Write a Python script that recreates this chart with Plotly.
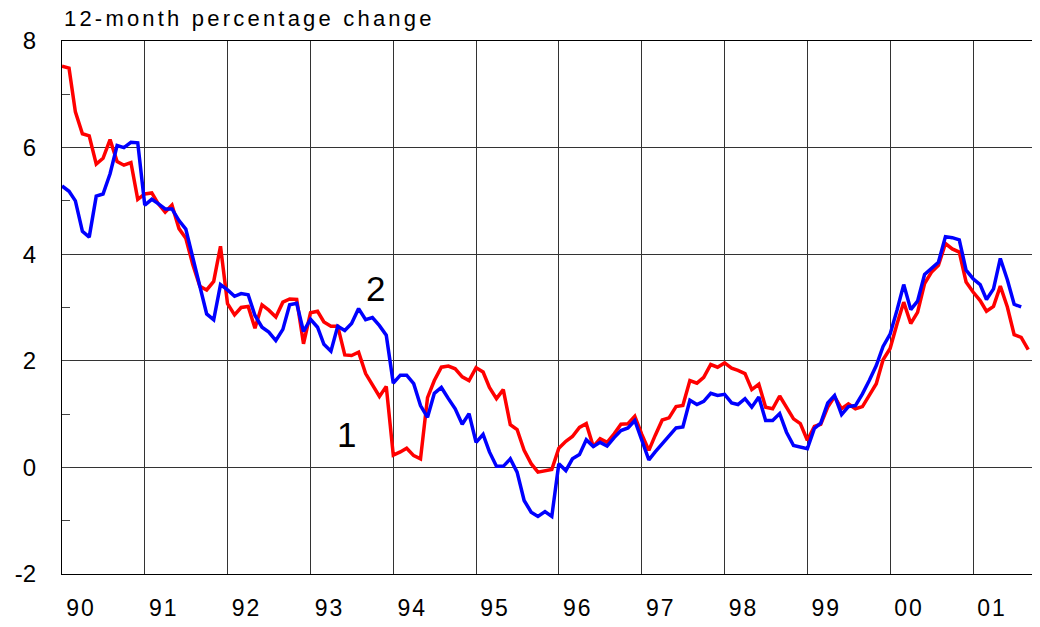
import pandas as pd
import plotly.graph_objects as go

# 12-month percentage change, monthly from Jan 1990
series1 = [7.53, 7.49, 6.67, 6.26, 6.22, 5.69, 5.80, 6.15, 5.74, 5.67, 5.72, 5.03,
           5.13, 5.15, 4.95, 4.79, 4.92, 4.48, 4.30, 3.80, 3.40, 3.33, 3.49, 4.15,
           3.07, 2.86, 3.00, 3.02, 2.61, 3.05, 2.95, 2.82, 3.10, 3.16, 3.15, 2.32,
           2.90, 2.93, 2.73, 2.65, 2.65, 2.11, 2.10, 2.16, 1.76, 1.54, 1.33, 1.52,
           0.23, 0.29, 0.36, 0.22, 0.16, 1.31, 1.63, 1.88, 1.90, 1.85, 1.70, 1.63,
           1.87, 1.79, 1.50, 1.29, 1.46, 0.80, 0.71, 0.32, 0.07, -0.09, -0.06, -0.04,
           0.36, 0.49, 0.58, 0.75, 0.82, 0.39, 0.54, 0.47, 0.63, 0.81, 0.82, 0.96,
           0.62, 0.32, 0.60, 0.89, 0.93, 1.14, 1.16, 1.63, 1.58, 1.69, 1.93, 1.88,
           1.96, 1.86, 1.82, 1.76, 1.46, 1.56, 1.13, 1.10, 1.34, 1.12, 0.91, 0.82,
           0.51, 0.77, 0.81, 1.13, 1.33, 1.10, 1.19, 1.10, 1.14, 1.35, 1.57, 2.02,
           2.23, 2.70, 3.10, 2.70, 2.91, 3.45, 3.66, 3.79, 4.20, 4.10, 4.04, 3.48,
           3.29, 3.13, 2.93, 3.02, 3.40, 3.01, 2.49, 2.44, 2.21]

series2 = [5.28, 5.18, 5.00, 4.43, 4.32, 5.09, 5.13, 5.51, 6.04, 6.00, 6.10, 6.09,
           4.92, 5.03, 4.95, 4.85, 4.85, 4.63, 4.47, 3.92, 3.35, 2.88, 2.77, 3.43,
           3.33, 3.21, 3.26, 3.24, 2.85, 2.63, 2.54, 2.38, 2.59, 3.05, 3.08, 2.55,
           2.78, 2.63, 2.31, 2.18, 2.65, 2.57, 2.70, 2.98, 2.77, 2.81, 2.66, 2.48,
           1.58, 1.73, 1.73, 1.57, 1.16, 0.94, 1.39, 1.50, 1.29, 1.10, 0.81, 1.01,
           0.47, 0.62, 0.29, 0.02, 0.02, 0.16, -0.09, -0.62, -0.84, -0.92, -0.83, -0.92,
           0.07, -0.06, 0.16, 0.24, 0.52, 0.39, 0.47, 0.40, 0.56, 0.69, 0.74, 0.88,
           0.51, 0.14, 0.29, 0.44, 0.57, 0.74, 0.76, 1.26, 1.18, 1.24, 1.39, 1.35,
           1.37, 1.21, 1.18, 1.29, 1.13, 1.32, 0.88, 0.88, 1.01, 0.66, 0.41, 0.38,
           0.35, 0.73, 0.83, 1.21, 1.35, 0.99, 1.14, 1.16, 1.38, 1.63, 1.91, 2.27,
           2.50, 2.96, 3.43, 2.96, 3.12, 3.62, 3.74, 3.85, 4.33, 4.31, 4.27, 3.70,
           3.54, 3.43, 3.15, 3.35, 3.92, 3.52, 3.06, 3.01]

years = list(range(1990, 2002))
year_labels = ["90", "91", "92", "93", "94", "95", "96", "97", "98", "99", "00", "01"]
y_ticks = [-2, 0, 2, 4, 6, 8]
y_labels = ["-2", "0", "2", "4", "6", "8"]

dates1 = pd.date_range("1990-01-01", periods=len(series1), freq="MS")
dates2 = pd.date_range("1990-01-01", periods=len(series2), freq="MS")

FONT = "Liberation Sans, Arial, sans-serif"
spaced = '<span style="letter-spacing:{}px">{}</span>'

fig = go.Figure()
fig.add_trace(go.Scatter(x=dates1, y=series1, mode="lines",
                         line=dict(color="#ff0000", width=3.5), name="1"))
fig.add_trace(go.Scatter(x=dates2, y=series2, mode="lines",
                         line=dict(color="#0000ff", width=3.5), name="2"))

# series labels next to the lines
fig.add_annotation(x="1993-10-13", y=3.36, text="2", showarrow=False,
                   font=dict(family=FONT, size=35, color="black"))
fig.add_annotation(x="1993-06-10", y=0.62, text="1", showarrow=False,
                   font=dict(family=FONT, size=35, color="black"))

fig.add_annotation(xref="paper", yref="paper", x=0.0, y=1.042,
                   xanchor="left", yanchor="middle", showarrow=False,
                   text=spaced.format(3.2, "12-month percentage change"),
                   font=dict(family=FONT, size=22, color="black"))

fig.update_xaxes(type="date", range=["1990-01-01", "2001-10-23"], automargin=False,
                 tickmode="array", tickvals=[f"{y}-01-01" for y in years],
                 ticktext=[spaced.format(2, t) for t in year_labels],
                 ticks="", ticklabelshift=19, ticklabelstandoff=13,
                 showgrid=True, gridcolor="#333", gridwidth=1,
                 showline=True, linecolor="black", linewidth=1, mirror=True,
                 tickfont=dict(family=FONT, size=23, color="black"))
fig.update_yaxes(range=[-2, 8], automargin=False,
                 tickmode="array", tickvals=y_ticks, ticktext=y_labels,
                 ticks="inside", ticklen=8, tickcolor="#444",
                 minor=dict(dtick=1, ticks="inside", ticklen=8, tickcolor="#444", showgrid=False),
                 showgrid=True, gridcolor="#333", gridwidth=1, zeroline=False,
                 showline=True, linecolor="black", linewidth=1,
                 ticklabelstandoff=20,
                 tickfont=dict(family=FONT, size=24, color="black"))

# the page adds an 8px body margin, so the figure is 8px smaller than the window
fig.update_layout(width=1032, height=619, showlegend=False,
                  margin=dict(l=54, r=0, t=33, b=53),
                  plot_bgcolor="white", paper_bgcolor="white")

fig.write_html("out.html")
